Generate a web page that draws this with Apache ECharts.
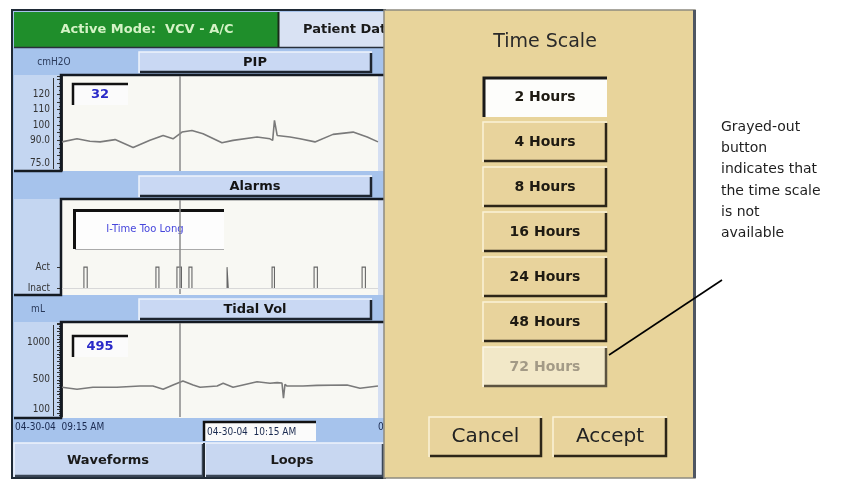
<!DOCTYPE html>
<html>
<head>
<meta charset="utf-8">
<script src="https://cdn.jsdelivr.net/npm/echarts@6/dist/echarts.min.js"></script>
<style>
html, body { margin: 0; padding: 0; background: #fff; }
#chart { width: 857px; height: 480px; }
</style>
</head>
<body>
<div id="chart"></div>
<script>
// trend data, x = minutes after 09:15
var pipTimes = [0, 5, 9.3, 12.7, 17.7, 23.7, 29.3, 33.7, 37, 40, 43.3, 47, 53.3, 57, 65, 69.3, 70.2, 70.8, 71.7, 76, 79.3, 84.3, 90.3, 97, 101.7, 105.3];
var pipValues = [89, 91, 89.4, 89, 90.5, 85.4, 90, 93.2, 91, 95.4, 96.4, 94.3, 88.4, 90, 92.2, 91, 90, 103, 93.2, 92.2, 91, 89, 93.9, 95.4, 92.2, 89];
var tidalTimes = [0, 5, 10.3, 18.3, 26, 30.3, 33.7, 37, 40.3, 43.7, 46, 51.7, 53.7, 57, 60.3, 65, 69.3, 71.7, 73.3, 73.8, 74.3, 75, 80.3, 85, 95, 99.3, 105.3];
var tidalValues = [400, 373, 400, 400, 417, 417, 373, 431, 485, 431, 400, 417, 454, 400, 431, 475, 454, 462, 458, 252, 440, 417, 417, 426, 431, 387, 417];
var alarmOn = [7.3, 31.3, 38.3, 42.3, 55, 70, 84, 100];
var alarmOff = [8.4, 32.3, 39.8, 43.3, 55.4, 70.8, 85.1, 101.1];
var cursorTime = 39.3;

var pipTicks = [75, 90, 100, 110, 120];
var tidalTicks = [100, 500, 1000];
var alarmLevels = ['Inact', 'Act'];
var timeLabels = ['04-30-04  09:15 AM', '04-30-04  10:15 AM', '04-30-04  11:15 AM'];
var scaleOptions = ['2 Hours', '4 Hours', '8 Hours', '16 Hours', '24 Hours', '48 Hours', '72 Hours'];
var selectedScale = '2 Hours';
var unavailableScale = '72 Hours';
var noteLines = ['Grayed-out', 'button', 'indicates that', 'the time scale', 'is not', 'available'];

var FONT = "'DejaVu Sans', sans-serif";
var NARROW = "'DejaVu Sans Condensed', 'DejaVu Sans', sans-serif";

function pairs(xs, ys) {
  return xs.map(function (x, i) { return [x, ys[i]]; });
}
var alarmData = [];
alarmOn.forEach(function (t, i) {
  alarmData.push([t, 0], [t, 1], [alarmOff[i], 1], [alarmOff[i], 0], [alarmOff[i], '-']);
});

var g = [];
function rect(x, y, w, h, fill, z, stroke, lw) {
  g.push({ type: 'rect', z: z, shape: { x: x, y: y, width: w, height: h },
    style: { fill: fill, stroke: stroke || null, lineWidth: lw || 0 } });
}
function poly(points, stroke, lw, z) {
  g.push({ type: 'polyline', z: z, shape: { points: points },
    style: { stroke: stroke, lineWidth: lw, fill: null } });
}
function text(x, y, str, font, fill, align, z) {
  g.push({ type: 'text', x: x, y: y, z: z,
    style: { text: str, font: font, fill: fill, textAlign: align || 'center', align: align || 'center',
      textVerticalAlign: 'middle', verticalAlign: 'middle' } });
}
// raised 3d button
function button(x, y, w, h, fill, light, dark, z) {
  rect(x, y, w, h, fill, z);
  poly([[x, y + h], [x, y], [x + w, y]], light, 1.5, z + 1);
  poly([[x + 1, y + h - 1], [x + w - 1, y + h - 1], [x + w - 1, y + 1]], dark, 2.5, z + 1);
}
// sunken box
function sunken(x, y, w, h, fill, dark, z) {
  rect(x, y, w, h, fill, z);
  poly([[x + 1, y + h], [x + 1, y + 1], [x + w, y + 1]], dark, 2.5, z + 1);
}

// left monitor screen
rect(12, 10, 373, 468, '#a6c3ec', -10, '#1f2a36', 2);
rect(14, 12, 264, 35, '#1f8e2b', -5);
poly([[278.5, 12], [278.5, 47]], '#1a2a1a', 2, -4);
rect(279, 12, 106, 35, '#d9e2f3', -5);
poly([[14, 47.5], [384, 47.5]], '#28303a', 1.5, -4);
text(147, 30, 'Active Mode:  VCV - A/C', 'bold 13px ' + FONT, '#d4f3c6', 'center', -3);
text(303, 30, 'Patient Data', 'bold 13px ' + FONT, '#1a1a1a', 'left', -3);

var panels = [
  { top: 75, bottom: 171, unit: 'cmH2O', title: 'PIP', ruler: true },
  { top: 199, bottom: 295, unit: '', title: 'Alarms', ruler: false },
  { top: 322, bottom: 418, unit: 'mL', title: 'Tidal Vol', ruler: true }
];
panels.forEach(function (p) {
  var stripTop = p.top - 26;
  if (p.unit) text(p.unit === 'mL' ? 38 : 54, stripTop + 13, p.unit, '10px ' + NARROW, '#2a3a5a', 'center', -3);
  button(139, stripTop + 3, 233, 21, '#c9d8f3', '#eef3fb', '#1d2530', -5);
  text(255, stripTop + 13.5, p.title, 'bold 13px ' + FONT, '#141414', 'center', -3);
  rect(14, p.top, 47, p.bottom - p.top, '#c4d6f1', -5);
  rect(62, p.top, 316, p.bottom - p.top, '#f8f8f3', -5);
  rect(378, p.top, 6, p.bottom - p.top, '#d5dff2', -5);
  poly([[14, p.bottom], [61, p.bottom], [61, p.top], [384, p.top]], '#141a22', 2.5, 3);
  if (p.ruler) poly([[53.5, p.top + 3], [53.5, p.bottom - 2]], '#333', 1, 3);
});

// readouts
sunken(72, 83, 56, 22, '#fbfbfb', '#111', 3);
text(100, 94.5, '32', 'bold 13px ' + FONT, '#2a2ac8', 'center', 5);
sunken(72, 335, 56, 22, '#fbfbfb', '#111', 3);
text(100, 346.5, '495', 'bold 13px ' + FONT, '#2a2ac8', 'center', 5);
rect(73, 209, 151, 40, '#fdfdfd', 1);
poly([[74.5, 249], [74.5, 210.5], [224, 210.5]], '#111', 3, 1);
poly([[75, 249.5], [224, 249.5]], '#aaa', 1, 1);
text(145, 229, 'I-Time Too Long', '10px ' + FONT, '#4646dc', 'center', 1);

// time strip
text(15, 427, timeLabels[0], '10px ' + NARROW, '#1a2a50', 'left', 3);
sunken(203, 421, 113, 20, '#fbfbfb', '#111', 3);
text(207, 432, timeLabels[1], '10px ' + NARROW, '#1a2a50', 'left', 5);
text(378, 427, timeLabels[2], '10px ' + NARROW, '#1a2a50', 'left', 3);

// bottom tabs
button(14, 443, 190, 34, '#c8d7f1', '#eef3fb', '#3a4656', -5);
button(205, 443, 179, 34, '#c8d7f1', '#eef3fb', '#3a4656', -5);
poly([[204, 443], [204, 477]], '#202830', 2, -3);
text(108, 461, 'Waveforms', 'bold 13px ' + FONT, '#1a1a1a', 'center', -3);
text(292, 461, 'Loops', 'bold 13px ' + FONT, '#1a1a1a', 'center', -3);

// time scale dialog
rect(384, 10, 311, 468, '#e8d49b', 10, '#8d8a80', 1.5);
poly([[694.5, 10], [694.5, 478]], '#4f5662', 3, 11);
text(545, 42, 'Time Scale', '19px ' + FONT, '#2a2a2a', 'center', 12);
scaleOptions.forEach(function (s, i) {
  var y = 77 + 45 * i;
  if (s === selectedScale) {
    rect(483, y, 124, 40, '#fdfdfb', 11);
    poly([[484, y + 40], [484, y + 1], [607, y + 1]], '#1a1a1a', 3, 12);
  } else if (s === unavailableScale) {
    button(483, y, 124, 40, '#f2e8c8', '#fbf6e6', '#5c5340', 11);
  } else {
    button(483, y, 124, 40, '#e8d39c', '#faf2d8', '#2d2618', 11);
  }
  text(545, y + 20, s, 'bold 14px ' + FONT, s === unavailableScale ? '#a39a86' : '#1e1a12', 'center', 13);
});
button(429, 417, 113, 40, '#e8d39c', '#faf2d8', '#2d2618', 11);
button(553, 417, 114, 40, '#e8d39c', '#faf2d8', '#2d2618', 11);
text(485.5, 437, 'Cancel', '20px ' + FONT, '#222', 'center', 13);
text(610, 437, 'Accept', '20px ' + FONT, '#222', 'center', 13);

// callout
poly([[609, 355], [722, 280]], '#000', 1.6, 14);
noteLines.forEach(function (s, i) {
  text(721, 127 + 21.3 * i, s, '14px ' + FONT, '#1e1e1e', 'left', 14);
});

var cursorLine = {
  silent: true, symbol: 'none', animation: false,
  label: { show: false },
  lineStyle: { color: '#8a8a8a', width: 1.5, type: 'solid' },
  data: [{ xAxis: cursorTime }]
};
function xAx(i) {
  return { gridIndex: i, type: 'value', min: 0, max: 105.3, show: false };
}
var tickStyle = { color: '#333', width: 1 };

var option = {
  backgroundColor: '#fff',
  animation: false,
  grid: [
    { left: 62, top: 76, width: 316, height: 95 },
    { left: 62, top: 200, width: 316, height: 94 },
    { left: 62, top: 323, width: 316, height: 94 }
  ],
  xAxis: [xAx(0), xAx(1), xAx(2)],
  yAxis: [
    {
      gridIndex: 0, type: 'value', min: 70, max: 132, interval: 5, offset: 3,
      axisLine: { show: true, lineStyle: tickStyle },
      axisTick: { show: true, length: 5, lineStyle: tickStyle },
      minorTick: { show: true, splitNumber: 2, length: 3, lineStyle: tickStyle },
      splitLine: { show: false },
      axisLabel: {
        customValues: pipTicks, margin: 9, color: '#333', fontSize: 10, fontFamily: NARROW,
        formatter: function (v) { return v < 100 ? v.toFixed(1) : String(v); }
      }
    },
    {
      gridIndex: 1, type: 'value', min: -0.28, max: 4.2, offset: 3,
      axisLine: { show: false },
      axisTick: { show: true, customValues: [0, 1], length: 5, lineStyle: tickStyle },
      splitLine: { show: false },
      axisLabel: {
        customValues: [0, 1], margin: 9, color: '#333', fontSize: 10, fontFamily: NARROW,
        formatter: function (v) { return alarmLevels[v]; }
      }
    },
    {
      gridIndex: 2, type: 'value', min: 0, max: 1265, interval: 50, offset: 3,
      axisLine: { show: true, lineStyle: tickStyle },
      axisTick: { show: true, length: 5, lineStyle: tickStyle },
      minorTick: { show: true, splitNumber: 2, length: 3, lineStyle: tickStyle },
      splitLine: { show: false },
      axisLabel: {
        customValues: tidalTicks, margin: 9, color: '#333', fontSize: 10, fontFamily: NARROW,
        formatter: function (v) { return String(v); }
      }
    }
  ],
  series: [
    {
      type: 'line', xAxisIndex: 0, yAxisIndex: 0, data: pairs(pipTimes, pipValues),
      symbol: 'none', lineStyle: { color: '#7a7a7a', width: 1.6 }, markLine: cursorLine
    },
    {
      type: 'line', xAxisIndex: 1, yAxisIndex: 1, data: alarmData,
      symbol: 'none', connectNulls: false, lineStyle: { color: '#666', width: 1.1, join: 'miter' },
      markLine: {
        silent: true, symbol: 'none', animation: false, label: { show: false },
        data: [
          { xAxis: cursorTime, lineStyle: { color: '#8a8a8a', width: 1.5, type: 'solid' } },
          { yAxis: 0, lineStyle: { color: '#d8d8d8', width: 1, type: 'solid' } }
        ]
      }
    },
    {
      type: 'line', xAxisIndex: 2, yAxisIndex: 2, data: pairs(tidalTimes, tidalValues),
      symbol: 'none', lineStyle: { color: '#7a7a7a', width: 1.6 }, markLine: cursorLine
    }
  ],
  graphic: { elements: g }
};

var chart = echarts.init(document.getElementById('chart'));
chart.setOption(option);
</script>
</body>
</html>
